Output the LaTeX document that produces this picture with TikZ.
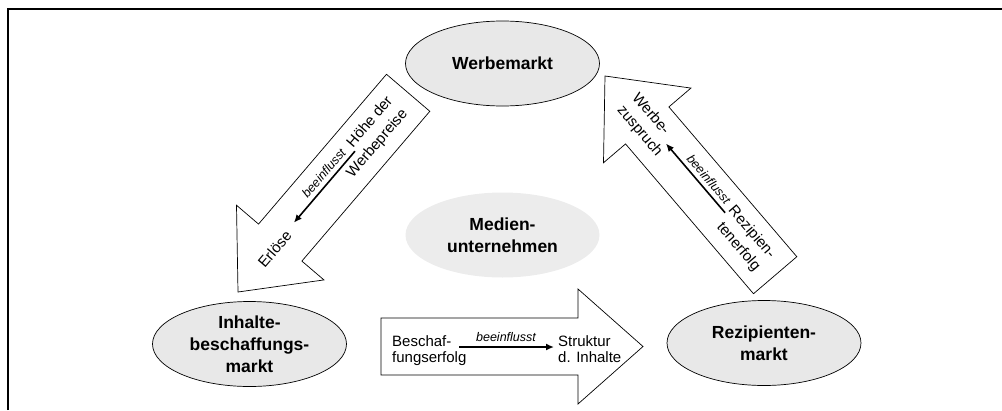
\documentclass[tikz,border=0pt]{standalone}
\usepackage{fontspec}
\setmainfont{Liberation Sans}
\usetikzlibrary{arrows.meta,shapes.geometric}
\definecolor{ellfill}{RGB}{232,232,232}
\definecolor{medfill}{RGB}{236,236,236}
\begin{document}
\begin{tikzpicture}[x=1pt,y=-1pt,
  mkt/.style={ellipse, draw=black, line width=0.7pt, fill=ellfill,
    minimum width=194pt, minimum height=85pt, inner sep=0pt},
  mkttext/.style={font=\fontsize{17.5}{22}\selectfont\bfseries, align=center, inner sep=0pt},
  bigarrow/.style={draw=black, line width=0.7pt, fill=white},
  innerarrow/.style={line width=1.6pt, -{Latex[length=8pt,width=7pt]}},
  lbl/.style={font=\fontsize{15}{16}\selectfont, inner sep=0pt},
  dlbl/.style={font=\fontsize{15}{19.5}\selectfont, inner sep=0pt, transform shape},
  infl/.style={font=\fontsize{12.5}{14}\selectfont\itshape, inner sep=0pt, anchor=base},
]
\useasboundingbox (0,0) rectangle (1002,410);
% frame
\coordinate (fbl) at (8,410);
\coordinate (ftl) at (8,9);
\coordinate (ftr) at (1002,9);
\draw[line width=1.2pt] (fbl) -- (ftl) -- (ftr);

% ellipses
\node[mkt] (werbe) at (502.5,63.5) {};
\node[mkttext] at (werbe) {Werbemarkt};
\node[mkt, draw=none, fill=medfill] (medien) at (502.5,235) {};
\node[mkttext] at (medien) {Medien-\\unternehmen};
\node[mkt] (inhalte) at (249.5,344) {};
\node[mkttext] at (inhalte) {Inhalte-\\beschaffungs-\\markt};
\node[mkt] (rezip) at (764,343) {};
\node[mkttext] at (rezip) {Rezipienten-\\markt};

% left big arrow (down-left)
\begin{scope}[shift={(238,292)}, rotate=49.5]
  \draw[bigarrow] (0,0) -- (65,57.5) -- (65,28.5) -- (262,28.5) -- (262,-28.5) -- (65,-28.5) -- (65,-57.5) -- cycle;
  \node[dlbl, anchor=west] (erl) at (35,0) {Erlöse};
  \node[dlbl, anchor=east, align=right] (hoehe) at (246,0) {Höhe der\\Werbepreise};
  \coordinate (la1) at (183,-2.5);
  \coordinate (la2) at (89,-2.5);
  \draw[innerarrow] (la1) -- (la2);
  \node[infl, transform shape] (inf1) at (146,-7.5) {beeinflusst};
\end{scope}

% right big arrow (up-left)
\begin{scope}[shift={(605,76)}, rotate=-49.5]
  \draw[bigarrow] (0,0) -- (65,57.5) -- (65,28.5) -- (262,28.5) -- (262,-28.5) -- (65,-28.5) -- (65,-57.5) -- cycle;
  \node[dlbl, anchor=west, align=left] (werbez) at (34,0) {Werbe-\\zuspruch};
  \node[dlbl, anchor=east, align=right] (rezerf) at (246,0) {Rezipien-\\tenerfolg};
  \coordinate (ra1) at (182,-2.5);
  \coordinate (ra2) at (91,-2.5);
  \draw[innerarrow] (ra1) -- (ra2);
  \node[infl, transform shape] (inf2) at (146,-7.5) {beeinflusst};
\end{scope}

% bottom big arrow (right)
\draw[bigarrow] (643,346.5) -- (578,289) -- (578,318) -- (381,318) -- (381,375) -- (578,375) -- (578,404) -- cycle;
\node[lbl, align=left, anchor=north west] (besch) at (392,335) {Beschaf-\\fungserfolg};
\node[lbl, align=left, anchor=north west] (strukt) at (558,335) {Struktur\\d. Inhalte};
\coordinate (ba1) at (459,347);
\coordinate (ba2) at (554,347);
\draw[innerarrow] (ba1) -- (ba2);
\node[infl] (inf3) at (506,341) {beeinflusst};
\end{tikzpicture}
\end{document}
